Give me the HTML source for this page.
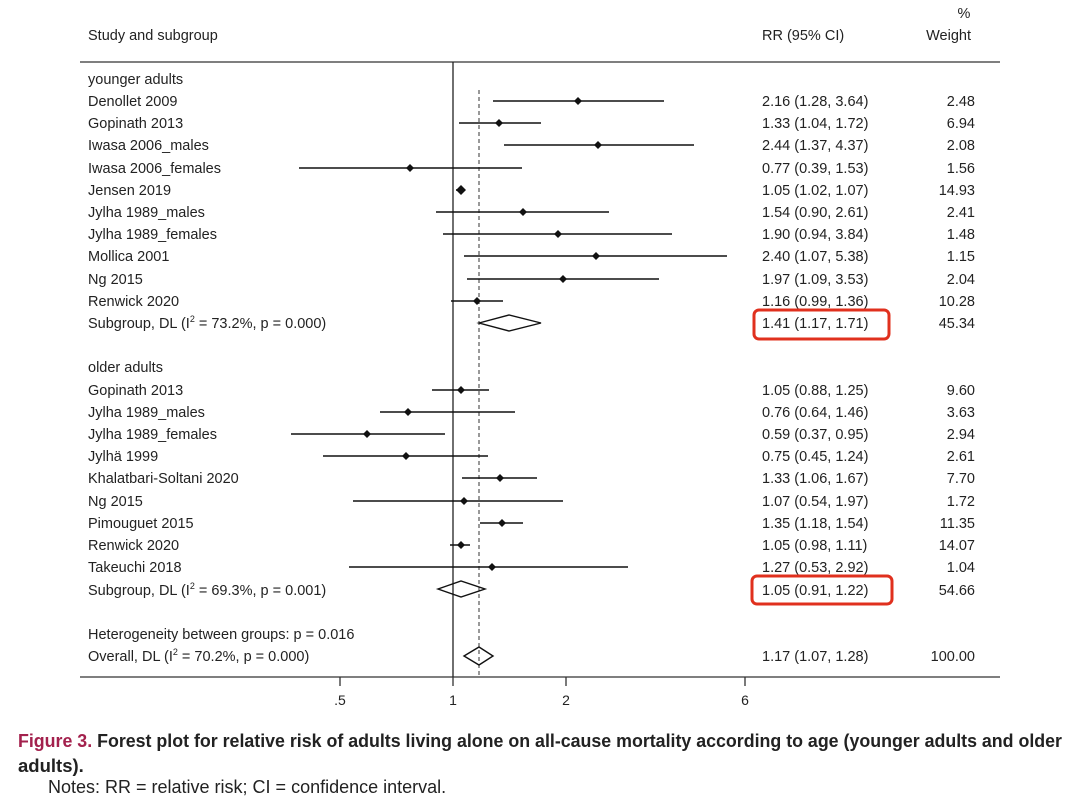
<!DOCTYPE html><html><head><meta charset="utf-8"><style>
body{margin:0;background:#fff;width:1080px;height:802px;overflow:hidden}
svg{display:block}
text{font-family:"Liberation Sans",Arial,sans-serif;fill:#222}
</style></head><body>
<svg width="1080" height="802" viewBox="0 0 1080 802">
<g font-size="14.5">
<text x="964" y="18" text-anchor="middle">%</text>
<text x="88" y="40">Study and subgroup</text>
<text x="762" y="40">RR (95% CI)</text>
<text x="971" y="40" text-anchor="end">Weight</text>
</g>
<line x1="80" y1="62" x2="1000" y2="62" stroke="#333" stroke-width="1.3"/>
<line x1="80" y1="677" x2="1000" y2="677" stroke="#333" stroke-width="1.3"/>
<line x1="453" y1="62" x2="453" y2="677" stroke="#222" stroke-width="1.3"/>
<line x1="479" y1="90" x2="479" y2="677" stroke="#333" stroke-width="1" stroke-dasharray="4,3"/>
<g stroke="#333" stroke-width="1.3">
<line x1="340" y1="677" x2="340" y2="686"/><line x1="453" y1="677" x2="453" y2="686"/>
<line x1="566" y1="677" x2="566" y2="686"/><line x1="745" y1="677" x2="745" y2="686"/>
</g>
<g font-size="14" text-anchor="middle">
<text x="340" y="705">.5</text><text x="453" y="705">1</text><text x="566" y="705">2</text><text x="745" y="705">6</text>
</g>
<g font-size="14.5">
<text x="88" y="84">younger adults</text>
<text x="88" y="106">Denollet 2009</text>
<text x="88" y="128">Gopinath 2013</text>
<text x="88" y="150">Iwasa 2006_males</text>
<text x="88" y="173">Iwasa 2006_females</text>
<text x="88" y="195">Jensen 2019</text>
<text x="88" y="217">Jylha 1989_males</text>
<text x="88" y="239">Jylha 1989_females</text>
<text x="88" y="261">Mollica 2001</text>
<text x="88" y="284">Ng 2015</text>
<text x="88" y="306">Renwick 2020</text>
<text x="88" y="328">Subgroup, DL (I<tspan font-size="9" dy="-6">2</tspan><tspan dy="6"> = 73.2%, p = 0.000)</tspan></text>
<text x="88" y="372">older adults</text>
<text x="88" y="395">Gopinath 2013</text>
<text x="88" y="417">Jylha 1989_males</text>
<text x="88" y="439">Jylha 1989_females</text>
<text x="88" y="461">Jylhä 1999</text>
<text x="88" y="483">Khalatbari-Soltani 2020</text>
<text x="88" y="506">Ng 2015</text>
<text x="88" y="528">Pimouguet 2015</text>
<text x="88" y="550">Renwick 2020</text>
<text x="88" y="572">Takeuchi 2018</text>
<text x="88" y="595">Subgroup, DL (I<tspan font-size="9" dy="-6">2</tspan><tspan dy="6"> = 69.3%, p = 0.001)</tspan></text>
<text x="88" y="639">Heterogeneity between groups: p = 0.016</text>
<text x="88" y="661">Overall, DL (I<tspan font-size="9" dy="-6">2</tspan><tspan dy="6"> = 70.2%, p = 0.000)</tspan></text>
</g>
<g font-size="14.5">
<text x="762" y="106">2.16 (1.28, 3.64)</text>
<text x="762" y="128">1.33 (1.04, 1.72)</text>
<text x="762" y="150">2.44 (1.37, 4.37)</text>
<text x="762" y="173">0.77 (0.39, 1.53)</text>
<text x="762" y="195">1.05 (1.02, 1.07)</text>
<text x="762" y="217">1.54 (0.90, 2.61)</text>
<text x="762" y="239">1.90 (0.94, 3.84)</text>
<text x="762" y="261">2.40 (1.07, 5.38)</text>
<text x="762" y="284">1.97 (1.09, 3.53)</text>
<text x="762" y="306">1.16 (0.99, 1.36)</text>
<text x="762" y="328">1.41 (1.17, 1.71)</text>
<text x="762" y="395">1.05 (0.88, 1.25)</text>
<text x="762" y="417">0.76 (0.64, 1.46)</text>
<text x="762" y="439">0.59 (0.37, 0.95)</text>
<text x="762" y="461">0.75 (0.45, 1.24)</text>
<text x="762" y="483">1.33 (1.06, 1.67)</text>
<text x="762" y="506">1.07 (0.54, 1.97)</text>
<text x="762" y="528">1.35 (1.18, 1.54)</text>
<text x="762" y="550">1.05 (0.98, 1.11)</text>
<text x="762" y="572">1.27 (0.53, 2.92)</text>
<text x="762" y="595">1.05 (0.91, 1.22)</text>
<text x="762" y="661">1.17 (1.07, 1.28)</text>
</g>
<g font-size="14.5" text-anchor="end">
<text x="975" y="106">2.48</text><text x="975" y="128">6.94</text><text x="975" y="150">2.08</text>
<text x="975" y="173">1.56</text><text x="975" y="195">14.93</text><text x="975" y="217">2.41</text>
<text x="975" y="239">1.48</text><text x="975" y="261">1.15</text><text x="975" y="284">2.04</text>
<text x="975" y="306">10.28</text><text x="975" y="328">45.34</text>
<text x="975" y="395">9.60</text><text x="975" y="417">3.63</text><text x="975" y="439">2.94</text>
<text x="975" y="461">2.61</text><text x="975" y="483">7.70</text><text x="975" y="506">1.72</text>
<text x="975" y="528">11.35</text><text x="975" y="550">14.07</text><text x="975" y="572">1.04</text>
<text x="975" y="595">54.66</text><text x="975" y="661">100.00</text>
</g>
<g stroke="#111" stroke-width="1.6">
<line x1="493" y1="101" x2="664" y2="101"/><line x1="459" y1="123" x2="541" y2="123"/>
<line x1="504" y1="145" x2="694" y2="145"/><line x1="299" y1="168" x2="522" y2="168"/>
<line x1="456" y1="190" x2="464" y2="190"/><line x1="436" y1="212" x2="609" y2="212"/>
<line x1="443" y1="234" x2="672" y2="234"/><line x1="464" y1="256" x2="727" y2="256"/>
<line x1="467" y1="279" x2="659" y2="279"/><line x1="451" y1="301" x2="503" y2="301"/>
<line x1="432" y1="390" x2="489" y2="390"/><line x1="380" y1="412" x2="515" y2="412"/>
<line x1="291" y1="434" x2="445" y2="434"/><line x1="323" y1="456" x2="488" y2="456"/>
<line x1="462" y1="478" x2="537" y2="478"/><line x1="353" y1="501" x2="563" y2="501"/>
<line x1="480" y1="523" x2="523" y2="523"/><line x1="450" y1="545" x2="470" y2="545"/>
<line x1="349" y1="567" x2="628" y2="567"/>
</g>
<g fill="#111">
<path d="M578 97l4 4-4 4-4-4z"/><path d="M499 119l4 4-4 4-4-4z"/>
<path d="M598 141l4 4-4 4-4-4z"/><path d="M410 164l4 4-4 4-4-4z"/>
<path d="M461 185l5 5-5 5-5-5z"/><path d="M523 208l4 4-4 4-4-4z"/>
<path d="M558 230l4 4-4 4-4-4z"/><path d="M596 252l4 4-4 4-4-4z"/>
<path d="M563 275l4 4-4 4-4-4z"/><path d="M477 297l4 4-4 4-4-4z"/>
<path d="M461 386l4 4-4 4-4-4z"/><path d="M408 408l4 4-4 4-4-4z"/>
<path d="M367 430l4 4-4 4-4-4z"/><path d="M406 452l4 4-4 4-4-4z"/>
<path d="M500 474l4 4-4 4-4-4z"/><path d="M464 497l4 4-4 4-4-4z"/>
<path d="M502 519l4 4-4 4-4-4z"/><path d="M461 541l4 4-4 4-4-4z"/>
<path d="M492 563l4 4-4 4-4-4z"/>
</g>
<g fill="none" stroke="#111" stroke-width="1.4">
<path d="M479 323L509 315L541 323L509 331Z"/>
<path d="M438 589L461 581L485 589L461 597Z"/>
<path d="M464 656L479 647L493 656L479 665Z"/>
</g>
<g fill="none" stroke="#e0301e" stroke-width="3">
<rect x="754" y="310" width="135" height="29" rx="5"/>
<rect x="752" y="576" width="140" height="28" rx="5"/>
</g>
<g font-size="18.5" font-weight="bold">
<text x="18" y="747" textLength="1044" lengthAdjust="spacingAndGlyphs"><tspan fill="#a3214d">Figure 3.</tspan> Forest plot for relative risk of adults living alone on all-cause mortality according to age (younger adults and older</text>
<text x="18" y="772">adults).</text>
</g>
<text x="48" y="793" font-size="18">Notes: RR = relative risk; CI = confidence interval.</text>
</svg>
</body></html>
